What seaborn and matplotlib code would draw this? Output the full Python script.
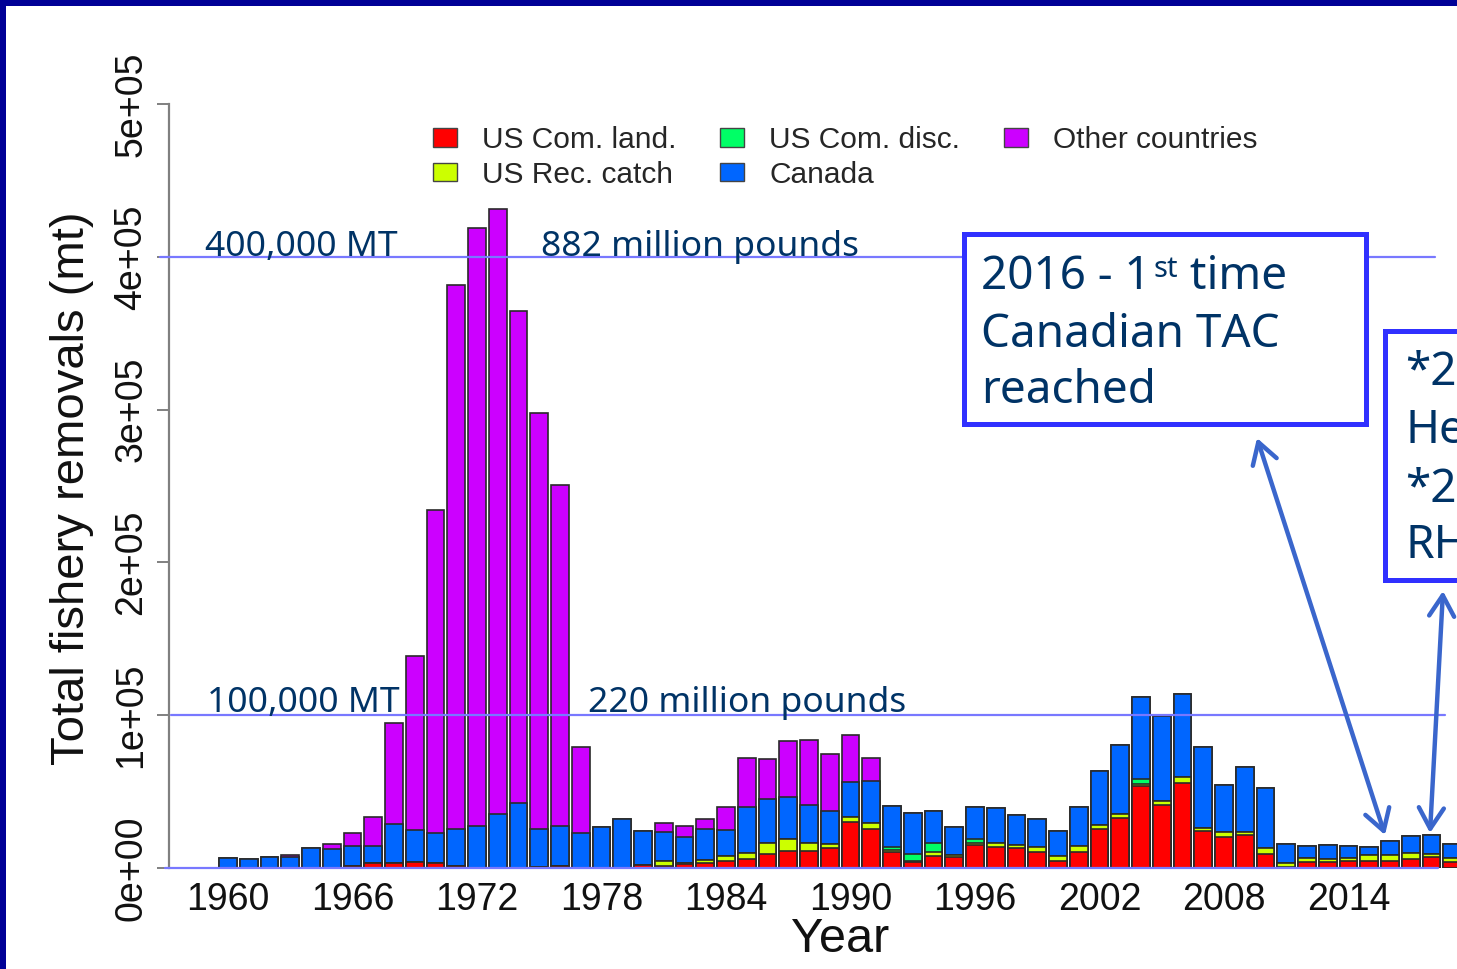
import numpy as np
import pandas as pd
import matplotlib
matplotlib.use("Agg")
import matplotlib.pyplot as plt
import matplotlib.transforms as mtransforms
from matplotlib.patches import Patch, Rectangle, FancyArrowPatch
from matplotlib.text import Annotation
import seaborn as sns

sns.set_style("ticks")
plt.rcParams["font.family"] = ["Liberation Sans", "DejaVu Sans"]

# -----------------------------------------------------------------
# data (metric tonnes)
# -----------------------------------------------------------------
years = list(range(1960, 2020))

us_com_land = [0, 0, 0, 0, 0, 0, 1000, 3000, 3000, 3700,
               3000, 1000, 0, 0, 0, 500, 1500, 0, 0, 0,
               1800, 1500, 2600, 3000, 4600, 5900, 8900, 11100, 11100, 13300,
               30100, 25700, 10700, 3700, 8000, 7400, 14800, 13900, 12900, 10700,
               4600, 10700, 25300, 32900, 53600, 41000, 55400, 24200, 20500, 21600,
               9200, 500, 4100, 3700, 4600, 4800, 4800, 6100, 7400, 4100]
us_rec_catch = [0, 0, 0, 0, 0, 0, 0, 0, 0, 0,
                0, 0, 0, 0, 0, 0, 0, 0, 0, 0,
                0, 2900, 600, 2400, 3200, 3700, 7200, 7600, 5000, 2400,
                3400, 3900, 800, 1000, 2700, 1300, 1700, 2600, 2300, 3200,
                3200, 3900, 3000, 2400, 1500, 3000, 4300, 1700, 3000, 1900,
                4100, 3000, 2200, 2000, 2100, 3700, 3700, 3500, 1800, 2200]
us_com_disc = [0, 0, 0, 0, 0, 0, 0, 0, 0, 0,
               0, 0, 0, 0, 0, 0, 0, 0, 0, 0,
               0, 0, 0, 0, 0, 0, 0, 0, 0, 0,
               0, 0, 2400, 4200, 5400, 0, 2600, 0, 0, 0,
               0, 0, 0, 0, 2900, 0, 0, 0, 0, 0,
               0, 0, 0, 0, 0, 0, 0, 0, 0, 0]
canada = [6700, 5900, 7200, 7200, 12900, 12700, 13400, 11200, 25800, 21100,
          19700, 24700, 27500, 35100, 42700, 25200, 26000, 23100, 27000, 32000,
          22600, 19300, 17300, 19900, 17000, 30100, 28800, 27700, 24900, 21600,
          22700, 27300, 26600, 26800, 20900, 18300, 21000, 22500, 19600, 17900,
          16600, 25500, 35100, 45500, 54000, 55300, 54000, 53400, 30500, 42700,
          38800, 12000, 8100, 9300, 7700, 5000, 9300, 11300, 12400, 9400]
other_countries = [0, 0, 0, 1300, 0, 2800, 8500, 18900, 66200, 114000,
                   211300, 356000, 391300, 396500, 321600, 272000, 223000, 56200, 0, 0,
                   0, 5900, 7000, 6700, 15300, 32600, 26300, 36600, 42700, 37200,
                   30900, 15400, 0, 0, 0, 0, 0, 0, 0, 0,
                   0, 0, 0, 0, 0, 0, 0, 0, 0, 0,
                   0, 0, 0, 0, 0, 0, 0, 0, 0, 0]

series_names = ["US Com. land.", "US Rec. catch", "US Com. disc.", "Canada", "Other countries"]
series_colors = ["#FF0000", "#CCFF00", "#00FF66", "#0066FF", "#CC00FF"]
x_tick_years = list(range(1960, 2015, 6))
y_ticks = [0, 1e5, 2e5, 3e5, 4e5, 5e5]
y_tick_labels = ["0e+00", "1e+05", "2e+05", "3e+05", "4e+05", "5e+05"]

# -----------------------------------------------------------------
# layout (pixels of the 1457x969 output)
# -----------------------------------------------------------------
W, H = 1457, 969
NAVY = "#003366"
BOX = "#3030FF"
ARROW = "#3A66CC"
HLINE = "#7878FF"


def fx(x):
    return x / W


def fy(y):
    return 1 - y / H


px_per_year = 20.75
x_1960 = 228
fig = plt.figure(figsize=(W / 100, H / 100), dpi=100)
fig.patch.set_facecolor("white")
ax = fig.add_axes([fx(169), fy(868), (W - 169) / W, (868 - 104) / H])

# stacked bars: draw cumulative totals from the top layer down
df = pd.DataFrame({"year": years})
layers = [us_com_land, us_rec_catch, us_com_disc, canada, other_countries]
cum = np.cumsum(np.array(layers, dtype=float), axis=0)
for i in range(len(layers) - 1, -1, -1):
    df["cum"] = cum[i]
    sns.barplot(data=df, x="year", y="cum", native_scale=True, color=series_colors[i],
                saturation=1, width=0.86, edgecolor="#2a2a2a", linewidth=1.2,
                errorbar=None, ax=ax, zorder=2)

ax.set_xlim(1960 - (x_1960 - 169) / px_per_year, 1960 + (W - x_1960) / px_per_year)
ax.set_ylim(0, 5e5)
ax.set_xlabel("")
ax.set_ylabel("")

for s in ["top", "right", "bottom"]:
    ax.spines[s].set_visible(False)
ax.spines["left"].set_color("#808080")
ax.spines["left"].set_linewidth(1.6)

ax.set_xticks(x_tick_years)
ax.set_xticklabels([str(y) for y in x_tick_years])
ax.tick_params(axis="x", length=0, pad=10, labelsize=27, labelcolor="#111111")
ax.set_yticks(y_ticks)
ax.set_yticklabels(y_tick_labels)
ax.tick_params(axis="y", length=9, width=1.4, color="#808080", pad=5,
               labelsize=27, labelcolor="#111111")
for lab in ax.get_yticklabels():
    lab.set_rotation(90)
    lab.set_va("center")

fig.text(fx(72), fy(488), "Total fishery removals (mt)", rotation=90,
         ha="center", va="center", fontsize=34, color="#111111")
fig.text(fx(840), fy(940), "Year", ha="center", va="center", fontsize=35,
         color="#111111")

# legend
handles = [Patch(facecolor=c, edgecolor="#444444", linewidth=1) for c in series_colors]
ax.legend(handles, series_names, ncol=3, loc="upper left",
          bbox_to_anchor=(fx(433), fy(126)), bbox_transform=fig.transFigure,
          frameon=False, fontsize=21.5, handlelength=0.8, handleheight=0.58,
          handletextpad=0.85, columnspacing=1.45, labelspacing=0.22,
          borderpad=0, borderaxespad=0)

# reference lines and their labels
blend = mtransforms.blended_transform_factory(fig.transFigure, ax.transData)
for yv, xa, xb in [(4e5, 160, 1435), (1e5, 171, 1445), (0, 165, 1438)]:
    ax.plot([fx(xa), fx(xb)], [yv, yv], transform=blend, color=HLINE, lw=1.6,
            clip_on=False, zorder=5)

ann_font = dict(family=["Noto Sans", "DejaVu Sans"], fontsize=25.5, color=NAVY,
                va="baseline", transform=blend, zorder=6)
ax.text(fx(205), 4e5 + 800, "400,000 MT", **ann_font)
ax.text(fx(541), 4e5 + 800, "882 million pounds", **ann_font)
ax.text(fx(207), 1e5 + 2000, "100,000 MT", **ann_font)
ax.text(fx(588), 1e5 + 2000, "220 million pounds", **ann_font)

# annotation boxes
box_font = dict(family=["Noto Sans", "DejaVu Sans"], color=NAVY)
fig.add_artist(Rectangle((fx(964), fy(424)), (1366 - 964) / W, (424 - 234) / H,
                         transform=fig.transFigure, facecolor="white", edgecolor=BOX,
                         linewidth=3.6, zorder=10))
fig.add_artist(Rectangle((fx(1385), fy(580)), (1520 - 1385) / W, (580 - 331) / H,
                         transform=fig.transFigure, facecolor="white", edgecolor=BOX,
                         linewidth=3.6, zorder=10))

t1 = fig.text(fx(981), fy(289), "2016 - 1", fontsize=33, va="baseline", zorder=11, **box_font)
st = fig.add_artist(Annotation("st", xy=(1, 1), xycoords=t1, xytext=(2, -1),
                               textcoords="offset points", ha="left", va="top",
                               fontsize=21, zorder=11, **box_font))
fig.add_artist(Annotation(" time", xy=(1, 0), xycoords=(st, t1), ha="left", va="bottom",
                          fontsize=33, zorder=11, **box_font))
fig.text(fx(981), fy(347), "Canadian TAC", fontsize=33, va="baseline", zorder=11, **box_font)
fig.text(fx(981), fy(403), "reached", fontsize=33, va="baseline", zorder=11, **box_font)

for txt, base in [("*2", 385), ("He", 443), ("*2", 502), ("RH", 558)]:
    fig.text(fx(1405), fy(base), txt, fontsize=33, va="baseline", zorder=11, **box_font)

# arrows
for (xa, ya), (xb, yb) in [((1257, 438), (1385, 835)), ((1443, 591), (1430, 833))]:
    fig.add_artist(FancyArrowPatch((fx(xa), fy(ya)), (fx(xb), fy(yb)),
                                   transform=fig.transFigure,
                                   arrowstyle="<->,head_length=0.75,head_width=0.45",
                                   mutation_scale=20, color=ARROW, lw=3.2,
                                   shrinkA=0, shrinkB=0, zorder=12))

# slide border
fig.add_artist(Rectangle((0, fy(6)), 1, 6 / H, transform=fig.transFigure,
                         facecolor="#000096", edgecolor="none", zorder=20))
fig.add_artist(Rectangle((0, 0), 6 / W, 1, transform=fig.transFigure,
                         facecolor="#000096", edgecolor="none", zorder=20))

fig.savefig("out.png", dpi=100)
